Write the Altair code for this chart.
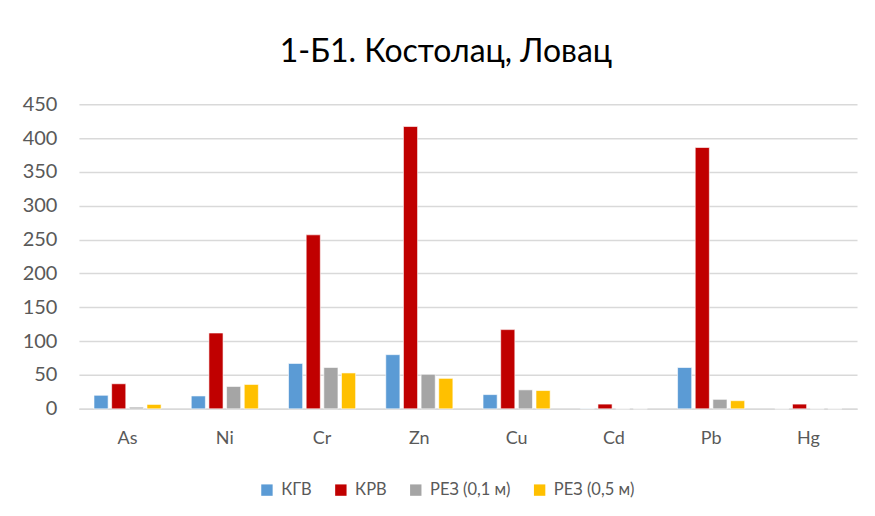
import altair as alt
import pandas as pd

elements = ["As", "Ni", "Cr", "Zn", "Cu", "Cd", "Pb", "Hg"]
series = ["КГВ", "КРВ", "РЕЗ (0,1 м)", "РЕЗ (0,5 м)"]
kgv = [20, 19, 67, 80, 21, 0.5, 61, 0]
krv = [37, 112, 257, 417, 117, 7, 386, 7]
rez01 = [2.5, 33, 61, 51, 28, 0, 14, 0]
rez05 = [6.5, 36, 53, 45, 27, 0, 12, 0]
colors = ["#5b9bd5", "#c00000", "#a5a5a5", "#ffc000"]

rows = []
for name, vals in zip(series, [kgv, krv, rez01, rez05]):
    for el, v in zip(elements, vals):
        rows.append({"element": el, "series": name, "value": v})
df = pd.DataFrame(rows)

FONT = "Lato"
TXT = "#595959"

chart = alt.Chart(df).mark_bar(stroke="white", strokeWidth=0.6).encode(
    x=alt.X("element:N", sort=elements, title=None,
            scale=alt.Scale(paddingInner=0.31, paddingOuter=0.155),
            axis=alt.Axis(labelAngle=0, labelFontSize=18, labelColor=TXT, labelFont=FONT,
                          labelPadding=21, ticks=False, domainColor="#d9d9d9", domainWidth=1.5)),
    xOffset=alt.XOffset("series:N", sort=series, scale=alt.Scale(paddingInner=0.2)),
    y=alt.Y("value:Q", title=None,
            scale=alt.Scale(domain=[0, 450], nice=False),
            axis=alt.Axis(values=list(range(0, 451, 50)), labelFontSize=20, labelColor=TXT,
                          labelFont=FONT, labelPadding=22, ticks=False, domain=False,
                          gridColor="#d9d9d9", gridWidth=1.5)),
    color=alt.Color("series:N", sort=series,
                    scale=alt.Scale(domain=series, range=colors),
                    legend=alt.Legend(title=None, orient="none", direction="horizontal",
                                      legendX=180, legendY=378, symbolType="square",
                                      symbolSize=130, symbolStrokeWidth=0,
                                      labelFontSize=16.5, labelColor=TXT, labelFont=FONT,
                                      columnPadding=20, labelOffset=6)),
).properties(
    width=779, height=305,
    title=alt.TitleParams("1-Б1. Костолац, Ловац", fontSize=32, font=FONT, color="#000000",
                          fontWeight="normal", anchor="middle", dx=-22, offset=25),
    autosize=alt.AutoSizeParams(type="none"),
    padding={"left": 71, "top": 96, "right": 10, "bottom": 100},
).configure_view(stroke=None)

chart.save("out.html", embed_options={"renderer": "svg", "actions": False})
